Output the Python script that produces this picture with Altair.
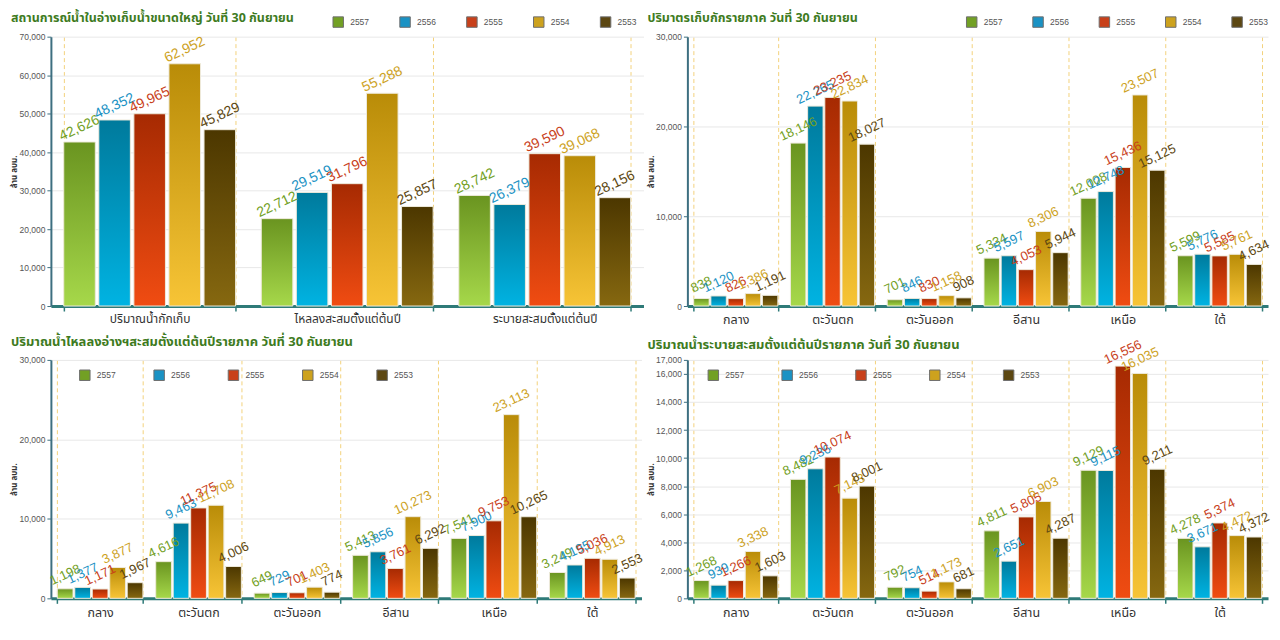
import altair as alt
import pandas as pd

YEARS = ["2557", "2556", "2555", "2554", "2553"]

# Panel 1 - overall situation
P1_CATS = ["ปริมาณน้ำกักเก็บ", "ไหลลงสะสมตั้งแต่ต้นปี", "ระบายสะสมตั้งแต่ต้นปี"]
P1_2557 = [42626, 22712, 28742]
P1_2556 = [48352, 29519, 26379]
P1_2555 = [49965, 31796, 39590]
P1_2554 = [62952, 55288, 39068]
P1_2553 = [45829, 25857, 28156]

REGIONS = ["กลาง", "ตะวันตก", "ตะวันออก", "อีสาน", "เหนือ", "ใต้"]

# Panel 2 - storage by region
P2_2557 = [838, 18146, 701, 5334, 12008, 5599]
P2_2556 = [1120, 22265, 846, 5597, 12748, 5776]
P2_2555 = [826, 23235, 830, 4053, 15436, 5585]
P2_2554 = [1386, 22834, 1158, 8306, 23507, 5761]
P2_2553 = [1191, 18027, 908, 5944, 15125, 4634]

# Panel 3 - inflow by region
P3_2557 = [1198, 4616, 649, 5413, 7541, 3249]
P3_2556 = [1377, 9463, 729, 5856, 7900, 4195]
P3_2555 = [1171, 11375, 701, 3761, 9753, 5036]
P3_2554 = [3877, 11708, 1403, 10273, 23113, 4913]
P3_2553 = [1967, 4006, 774, 6292, 10265, 2553]

# Panel 4 - release by region
P4_2557 = [1268, 8482, 792, 4811, 9129, 4278]
P4_2556 = [939, 9236, 754, 2651, 9115, 3671]
P4_2555 = [1266, 10074, 514, 5805, 16556, 5374]
P4_2554 = [3338, 7143, 1173, 6903, 16035, 4472]
P4_2553 = [1603, 8001, 681, 4287, 9211, 4372]

TITLES = [
    "สถานการณ์น้ำในอ่างเก็บน้ำขนาดใหญ่ วันที่ 30 กันยายน",
    "ปริมาตรเก็บกักรายภาค วันที่ 30 กันยายน",
    "ปริมาณน้ำไหลลงอ่างฯสะสมตั้งแต่ต้นปีรายภาค วันที่ 30 กันยายน",
    "ปริมาณน้ำระบายสะสมตั้งแต่ต้นปีรายภาค วันที่ 30 กันยายน",
]
Y_TITLE = "ล้าน ลบม."

BAR_TOP = ["#6a9420", "#007a9c", "#a62a02", "#b98c08", "#4c3700"]
BAR_BOTTOM = ["#a6d84a", "#00b3e2", "#f04c12", "#f7c436", "#866810"]
LABEL_COLORS = ["#72a024", "#1a92c4", "#c8401a", "#cda21e", "#5c4712"]

THAI = "Noto Sans Thai, Noto Sans Thai UI, Tahoma, Noto Sans, sans-serif"
NUM = "Liberation Sans, Arial, sans-serif"


def make_df(cats, series):
    rows = []
    for yr, vals in zip(YEARS, series):
        for c, v in zip(cats, vals):
            rows.append({"cat": c, "year": yr, "value": v})
    return pd.DataFrame(rows)


def panel(cats, series, title, ymax, yticks, w, h, lx, ly, colpad,
          label_size, title_offset, title_size, xlabel_size):
    df = make_df(cats, series)
    x = alt.X(
        "cat:N", sort=cats,
        scale=alt.Scale(domain=cats, paddingInner=0.13, paddingOuter=0.065),
        axis=alt.Axis(
            title=None, labelAngle=0, labelFontSize=xlabel_size, labelFont=THAI,
            labelColor="#333333", labelPadding=3, tickBand="extent",
            grid=True, gridDash=[4, 3], gridColor="#f3d27c", gridWidth=1,
            domainColor="#2e7a78", domainWidth=3, tickColor="#2e7a78",
            tickSize=5, tickWidth=1.5,
        ),
    )
    xo = alt.XOffset("year:N", sort=YEARS,
                     scale=alt.Scale(domain=YEARS, paddingInner=0.1))
    y = alt.Y(
        "value:Q",
        scale=alt.Scale(domain=[0, ymax], nice=False),
        axis=alt.Axis(
            values=yticks, format=",.0f", title=Y_TITLE, titleFontSize=8,
            titleFont=THAI, titleColor="#333333", titleFontWeight="bold",
            titlePadding=2, labelFontSize=8.5, labelColor="#555555",
            labelFont=NUM, tickSize=4, tickColor="#3d6f80",
            domainColor="#3d6f80", domainWidth=2, gridColor="#e8e8e8",
            minExtent=30, maxExtent=30,
        ),
    )
    layers = []
    for i, yr in enumerate(YEARS):
        grad = alt.Gradient(
            gradient="linear",
            stops=[alt.GradientStop(color=BAR_TOP[i], offset=0),
                   alt.GradientStop(color=BAR_BOTTOM[i], offset=1)],
            x1=1, x2=1, y1=0, y2=1,
        )
        layers.append(
            alt.Chart(df)
            .transform_filter(alt.datum.year == yr)
            .mark_bar(color=grad, stroke="#eeeadb", strokeWidth=1)
            .encode(x=x, xOffset=xo, y=y)
        )
    text = alt.Chart(df).mark_text(
        angle=335, align="center", baseline="middle", yOffset=-14,
        fontSize=label_size, font=NUM,
    ).encode(
        x=x, xOffset=xo, y=y,
        text=alt.Text("value:Q", format=","),
        color=alt.Color(
            "year:N", sort=YEARS,
            scale=alt.Scale(domain=YEARS, range=LABEL_COLORS),
            legend=alt.Legend(
                orient="none", legendX=lx, legendY=ly, direction="horizontal",
                columns=5, title=None, symbolType="square", symbolSize=110,
                symbolStrokeColor="#6e6e6e", symbolStrokeWidth=1,
                labelFontSize=8.5, labelColor="#555555", labelFont=NUM,
                columnPadding=colpad, labelOffset=6,
            ),
        ),
    )
    layers.append(text)
    return alt.layer(*layers).properties(
        width=w, height=h,
        title=alt.TitleParams(
            text=title, anchor="start", fontSize=title_size, fontWeight="bold",
            color="#3e7b1e", font=THAI, offset=title_offset,
        ),
    )


ticks_70 = [0, 10000, 20000, 30000, 40000, 50000, 60000, 70000]
ticks_30 = [0, 10000, 20000, 30000]
ticks_17 = [0, 2000, 4000, 6000, 8000, 10000, 12000, 14000, 16000, 17000]

p1 = panel(P1_CATS, [P1_2557, P1_2556, P1_2555, P1_2554, P1_2553], TITLES[0],
           70000, ticks_70, 594, 270, 282, -21, 28, 14, -9, 12.5, 12)
p2 = panel(REGIONS, [P2_2557, P2_2556, P2_2555, P2_2554, P2_2553], TITLES[1],
           30000, ticks_30, 582, 270, 279, -21, 27.5, 13, -9, 12.5, 12.5)
p3 = panel(REGIONS, [P3_2557, P3_2556, P3_2555, P3_2554, P3_2553], TITLES[2],
           30000, ticks_30, 592, 239, 28, 9, 35.5, 13, 7, 13, 12.5)
p4 = panel(REGIONS, [P4_2557, P4_2556, P4_2555, P4_2554, P4_2553], TITLES[3],
           17000, ticks_17, 582, 239, 20, 9, 35, 13, -14, 13, 12.5)

chart = (
    alt.concat(p1, p2, p3, p4, columns=2,
               spacing={"row": 54, "column": 44}, bounds="flush")
    .resolve_scale(color="independent", xOffset="independent")
    .properties(padding={"left": 3, "top": 3, "right": 0, "bottom": 4},
                background="#ffffff")
    .configure_view(strokeWidth=0)
)

chart.save("out.html", embed_options={"renderer": "svg", "actions": False})
